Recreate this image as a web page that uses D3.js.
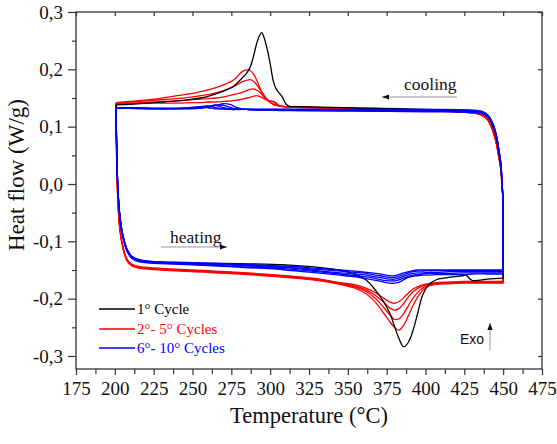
<!DOCTYPE html>
<html><head><meta charset="utf-8">
<script src="https://cdn.jsdelivr.net/npm/d3@7"></script>
<style>body{margin:0;background:#fff}svg{display:block}</style>
</head><body><svg id="c" width="557" height="444"></svg>
<script>
// ---- data ----
const xTickValues = [175,200,225,250,275,300,325,350,375,400,425,450,475];
const yTickValues = [-0.3,-0.2,-0.1,0.0,0.1,0.2,0.3];
const seriesNames = ["1\u00b0 Cycle","2\u00b0- 5\u00b0 Cycles","6\u00b0- 10\u00b0 Cycles"];

const heatT = [200.8,201.2,202,203.3,205.3,207.8,211,216,223,250,280,310,330,345,355,362,368,373,377,380,383,386,389,392,395,398,402,407,415,424,426,430,440,450];
const coolT = [450,449.3,448.5,447,445.5,443,440,436,430,400,350,320,312,310,308,306,304,302,300,298,296,294.5,293,291,289,287,285,282,278,275,270,265,260,255,250,240,225,210,200.8];

const heatBlack = [0.138,0.06,-0.01,-0.058,-0.092,-0.115,-0.128,-0.134,-0.136,-0.138,-0.139,-0.141,-0.145,-0.150,-0.158,-0.168,-0.186,-0.205,-0.225,-0.248,-0.270,-0.284,-0.276,-0.255,-0.225,-0.195,-0.176,-0.167,-0.163,-0.160,-0.159,-0.168,-0.166,-0.164];
const coolBlack = [-0.03,0.0,0.03,0.058,0.082,0.103,0.117,0.124,0.126,0.130,0.133,0.135,0.136,0.140,0.151,0.158,0.165,0.180,0.210,0.236,0.256,0.264,0.258,0.242,0.220,0.203,0.194,0.185,0.174,0.168,0.162,0.157,0.153,0.150,0.148,0.145,0.142,0.139,0.138];

const heatRed = [
 [0.142,0.04,-0.03,-0.081,-0.113,-0.134,-0.143,-0.147,-0.149,-0.153,-0.157,-0.163,-0.168,-0.175,-0.182,-0.192,-0.207,-0.225,-0.240,-0.250,-0.255,-0.246,-0.230,-0.212,-0.197,-0.186,-0.178,-0.175,-0.174,-0.173,-0.173,-0.173,-0.173,-0.173],
 [0.141,0.04,-0.03,-0.080,-0.112,-0.133,-0.142,-0.146,-0.148,-0.152,-0.156,-0.162,-0.167,-0.174,-0.180,-0.188,-0.200,-0.215,-0.228,-0.236,-0.235,-0.226,-0.212,-0.199,-0.189,-0.182,-0.177,-0.174,-0.173,-0.172,-0.172,-0.172,-0.172,-0.172],
 [0.141,0.041,-0.029,-0.079,-0.111,-0.132,-0.141,-0.145,-0.147,-0.151,-0.155,-0.161,-0.166,-0.173,-0.178,-0.185,-0.195,-0.206,-0.216,-0.220,-0.217,-0.208,-0.197,-0.188,-0.182,-0.178,-0.175,-0.173,-0.172,-0.171,-0.171,-0.171,-0.171,-0.171],
 [0.140,0.042,-0.028,-0.078,-0.110,-0.131,-0.140,-0.144,-0.146,-0.150,-0.154,-0.160,-0.165,-0.172,-0.176,-0.182,-0.190,-0.199,-0.206,-0.208,-0.205,-0.198,-0.190,-0.183,-0.179,-0.176,-0.174,-0.172,-0.171,-0.170,-0.170,-0.170,-0.170,-0.170]
];
const coolRed = [
 [-0.03,-0.005,0.025,0.05,0.072,0.095,0.112,0.120,0.124,0.129,0.132,0.134,0.135,0.135,0.136,0.136,0.137,0.139,0.142,0.147,0.154,0.161,0.170,0.183,0.193,0.198,0.199,0.196,0.185,0.179,0.173,0.168,0.164,0.161,0.158,0.154,0.148,0.144,0.142],
 [-0.03,-0.005,0.025,0.05,0.072,0.095,0.112,0.120,0.124,0.129,0.132,0.134,0.135,0.135,0.135,0.136,0.137,0.139,0.142,0.148,0.155,0.161,0.167,0.174,0.180,0.182,0.181,0.178,0.172,0.168,0.163,0.159,0.156,0.154,0.152,0.149,0.146,0.143,0.141],
 [-0.03,-0.004,0.026,0.051,0.073,0.096,0.113,0.121,0.124,0.129,0.132,0.134,0.134,0.135,0.135,0.136,0.139,0.143,0.145,0.147,0.152,0.157,0.161,0.164,0.166,0.165,0.163,0.160,0.157,0.155,0.152,0.150,0.149,0.148,0.147,0.145,0.143,0.141,0.140],
 [-0.03,-0.004,0.026,0.051,0.073,0.096,0.113,0.121,0.124,0.128,0.131,0.133,0.134,0.134,0.135,0.137,0.141,0.144,0.145,0.146,0.149,0.151,0.153,0.154,0.153,0.151,0.150,0.148,0.146,0.145,0.144,0.143,0.143,0.142,0.142,0.141,0.141,0.140,0.140]
];

const heatBlue = [
 [0.132,0.058,-0.012,-0.060,-0.094,-0.117,-0.130,-0.136,-0.138,-0.141,-0.145,-0.150,-0.155,-0.159,-0.162,-0.165,-0.168,-0.171,-0.173,-0.173,-0.171,-0.167,-0.163,-0.161,-0.160,-0.159,-0.159,-0.158,-0.158,-0.158,-0.158,-0.157,-0.157,-0.157],
 [0.132,0.059,-0.011,-0.059,-0.093,-0.116,-0.129,-0.135,-0.137,-0.140,-0.144,-0.148,-0.153,-0.157,-0.160,-0.162,-0.165,-0.168,-0.169,-0.169,-0.167,-0.164,-0.161,-0.159,-0.158,-0.157,-0.156,-0.156,-0.156,-0.155,-0.155,-0.155,-0.155,-0.155],
 [0.132,0.06,-0.010,-0.058,-0.092,-0.115,-0.128,-0.134,-0.136,-0.139,-0.142,-0.146,-0.151,-0.155,-0.157,-0.159,-0.162,-0.164,-0.166,-0.166,-0.164,-0.161,-0.158,-0.156,-0.155,-0.155,-0.154,-0.154,-0.153,-0.153,-0.153,-0.153,-0.153,-0.153],
 [0.131,0.06,-0.010,-0.057,-0.091,-0.114,-0.127,-0.133,-0.135,-0.138,-0.141,-0.145,-0.149,-0.152,-0.154,-0.156,-0.159,-0.161,-0.163,-0.163,-0.161,-0.158,-0.155,-0.153,-0.152,-0.152,-0.151,-0.151,-0.151,-0.151,-0.151,-0.151,-0.151,-0.151],
 [0.131,0.061,-0.009,-0.056,-0.090,-0.113,-0.126,-0.132,-0.135,-0.137,-0.140,-0.143,-0.147,-0.150,-0.152,-0.154,-0.156,-0.158,-0.160,-0.160,-0.158,-0.155,-0.153,-0.151,-0.150,-0.150,-0.150,-0.150,-0.150,-0.150,-0.150,-0.150,-0.150,-0.150]
];
const coolBlue = [
 [-0.03,0.0,0.034,0.061,0.084,0.105,0.118,0.123,0.125,0.126,0.127,0.128,0.128,0.128,0.128,0.128,0.129,0.129,0.129,0.129,0.129,0.129,0.129,0.129,0.130,0.130,0.130,0.131,0.134,0.138,0.140,0.137,0.134,0.132,0.131,0.131,0.131,0.132,0.132],
 [-0.03,0.0,0.035,0.062,0.085,0.106,0.119,0.124,0.126,0.127,0.128,0.128,0.129,0.129,0.129,0.129,0.129,0.129,0.129,0.129,0.129,0.129,0.129,0.129,0.129,0.129,0.130,0.130,0.131,0.133,0.137,0.138,0.135,0.133,0.132,0.131,0.131,0.132,0.132],
 [-0.03,0.0,0.036,0.063,0.086,0.107,0.120,0.125,0.127,0.128,0.129,0.129,0.130,0.130,0.130,0.130,0.130,0.130,0.130,0.130,0.130,0.130,0.130,0.130,0.130,0.130,0.130,0.130,0.130,0.131,0.133,0.137,0.136,0.134,0.132,0.132,0.132,0.132,0.133],
 [-0.03,0.0,0.036,0.063,0.086,0.107,0.120,0.126,0.128,0.129,0.129,0.130,0.130,0.130,0.130,0.130,0.130,0.130,0.130,0.130,0.130,0.130,0.130,0.130,0.130,0.130,0.130,0.130,0.130,0.130,0.131,0.133,0.136,0.135,0.133,0.132,0.132,0.133,0.133],
 [-0.03,0.0,0.037,0.064,0.087,0.108,0.121,0.127,0.129,0.130,0.130,0.130,0.130,0.130,0.130,0.130,0.130,0.130,0.130,0.130,0.130,0.130,0.130,0.130,0.130,0.130,0.130,0.130,0.130,0.130,0.131,0.131,0.133,0.135,0.134,0.132,0.132,0.133,0.133]
];

// ---- drawing ----
const svg = d3.select("#c");
const L = 76, R = 542, T = 12, B = 369;
const x = d3.scaleLinear().domain([175,475]).range([L,R]);
const y = d3.scaleLinear().domain([-0.3,0.3]).range([356,12]);
const serif = "'Liberation Serif','Times New Roman',serif";

svg.append("defs").append("clipPath").attr("id","pc")
  .append("rect").attr("x",L).attr("y",T).attr("width",R-L).attr("height",B-T);

const line = d3.line().x(d=>x(d[0])).y(d=>y(d[1])).curve(d3.curveCatmullRom.alpha(0.5));
function loopPath(hv, cv){
  const h = heatT.map((t,i)=>[t,hv[i]]);
  const c = coolT.map((t,i)=>[t,cv[i]]);
  // heating segment, straight isothermal link at 450, then cooling segment
  return line(h) + line(c).replace(/^M/,"L");
}
const g = svg.append("g").attr("clip-path","url(#pc)");
const sets = [];
heatRed.forEach((h,i)=>sets.push({d:loopPath(h,coolRed[i]),c:"#ff0000"}));
sets.push({d:loopPath(heatBlack,coolBlack),c:"#000000"});
heatBlue.forEach((h,i)=>sets.push({d:loopPath(h,coolBlue[i]),c:"#0000ff"}));
g.selectAll("path.s").data(sets).join("path").attr("class","s")
  .attr("d",s=>s.d).attr("fill","none").attr("stroke",s=>s.c)
  .attr("stroke-width",1.3).attr("stroke-linejoin","round");

// frame
svg.append("rect").attr("x",L).attr("y",T).attr("width",R-L).attr("height",B-T)
  .attr("fill","none").attr("stroke","#333").attr("stroke-width",1.3);

// x axis
const xMinor = xTickValues.slice(0,-1).map(v=>v+12.5);
const xa = svg.append("g").attr("transform",`translate(0,${B})`)
  .call(d3.axisBottom(x).tickValues(xTickValues).tickFormat(d3.format("d")).tickSize(6).tickPadding(7));
const xm = svg.append("g").attr("transform",`translate(0,${B})`)
  .call(d3.axisBottom(x).tickValues(xMinor).tickFormat("").tickSize(5));
// y axis
const yMinor = [-0.25,-0.15,-0.05,0.05,0.15,0.25];
const ya = svg.append("g").attr("transform",`translate(${L},0)`)
  .call(d3.axisLeft(y).tickValues(yTickValues).tickFormat(d=>d.toFixed(1).replace(".",",").replace("-0,0","0,0")).tickSize(8).tickPadding(5));
const ym = svg.append("g").attr("transform",`translate(${L},0)`)
  .call(d3.axisLeft(y).tickValues(yMinor).tickFormat("").tickSize(4));
// top/right inward ticks
const xt = svg.append("g").attr("transform",`translate(0,${T})`)
  .call(d3.axisBottom(x).tickValues(xTickValues).tickFormat("").tickSize(4));
const yr = svg.append("g").attr("transform",`translate(${R},0)`)
  .call(d3.axisLeft(y).tickValues(yTickValues).tickFormat("").tickSize(4));
[xa,xm,ya,ym,xt,yr].forEach(a=>{
  a.select(".domain").remove();
  a.selectAll("line").attr("stroke","#333").attr("stroke-width",1.2);
  a.selectAll("text").attr("font-family",serif).attr("font-size",19).attr("fill","#111");
});

// titles
svg.append("text").attr("x",309).attr("y",423).attr("text-anchor","middle")
  .attr("font-family",serif).attr("font-size",22.5).attr("fill","#111").text("Temperature (\u00b0C)");
svg.append("text").attr("transform","translate(24,175) rotate(-90)").attr("text-anchor","middle")
  .attr("font-family",serif).attr("font-size",23).attr("fill","#111").text("Heat flow (W/g)");

// legend
const legColors = ["#000000","#ff0000","#0000ff"];
const legY = [309,329,348];
seriesNames.forEach((n,i)=>{
  svg.append("line").attr("x1",99).attr("x2",135).attr("y1",legY[i]).attr("y2",legY[i])
    .attr("stroke",legColors[i]).attr("stroke-width",1.5);
  svg.append("text").attr("x",137).attr("y",legY[i]+5).attr("font-family",serif)
    .attr("font-size",15).attr("fill",legColors[i]).text(n);
});

// annotations
function arrow(x1,y1,x2,y2){
  svg.append("line").attr("x1",x1).attr("y1",y1).attr("x2",x2).attr("y2",y2)
    .attr("stroke","#999").attr("stroke-width",1);
  const a = Math.atan2(y2-y1,x2-x1), len=7, w=2.6;
  const p = [[x2,y2],[x2-len*Math.cos(a)+w*Math.sin(a), y2-len*Math.sin(a)-w*Math.cos(a)],
             [x2-len*Math.cos(a)-w*Math.sin(a), y2-len*Math.sin(a)+w*Math.cos(a)]];
  svg.append("path").attr("d","M"+p.map(q=>q.join(",")).join("L")+"Z").attr("fill","#111");
}
svg.append("text").attr("x",404).attr("y",90).attr("font-family",serif).attr("font-size",17.5)
  .attr("fill","#111").text("cooling");
arrow(457,97,382,97);
svg.append("text").attr("x",170).attr("y",243).attr("font-family",serif).attr("font-size",17.5)
  .attr("fill","#111").text("heating");
arrow(161,247,227,247);
svg.append("text").attr("x",460).attr("y",344).attr("font-family","'Liberation Sans',Arial,sans-serif")
  .attr("font-size",14).attr("fill","#111").text("Exo");
arrow(490,350,490,323);
</script></body></html>
